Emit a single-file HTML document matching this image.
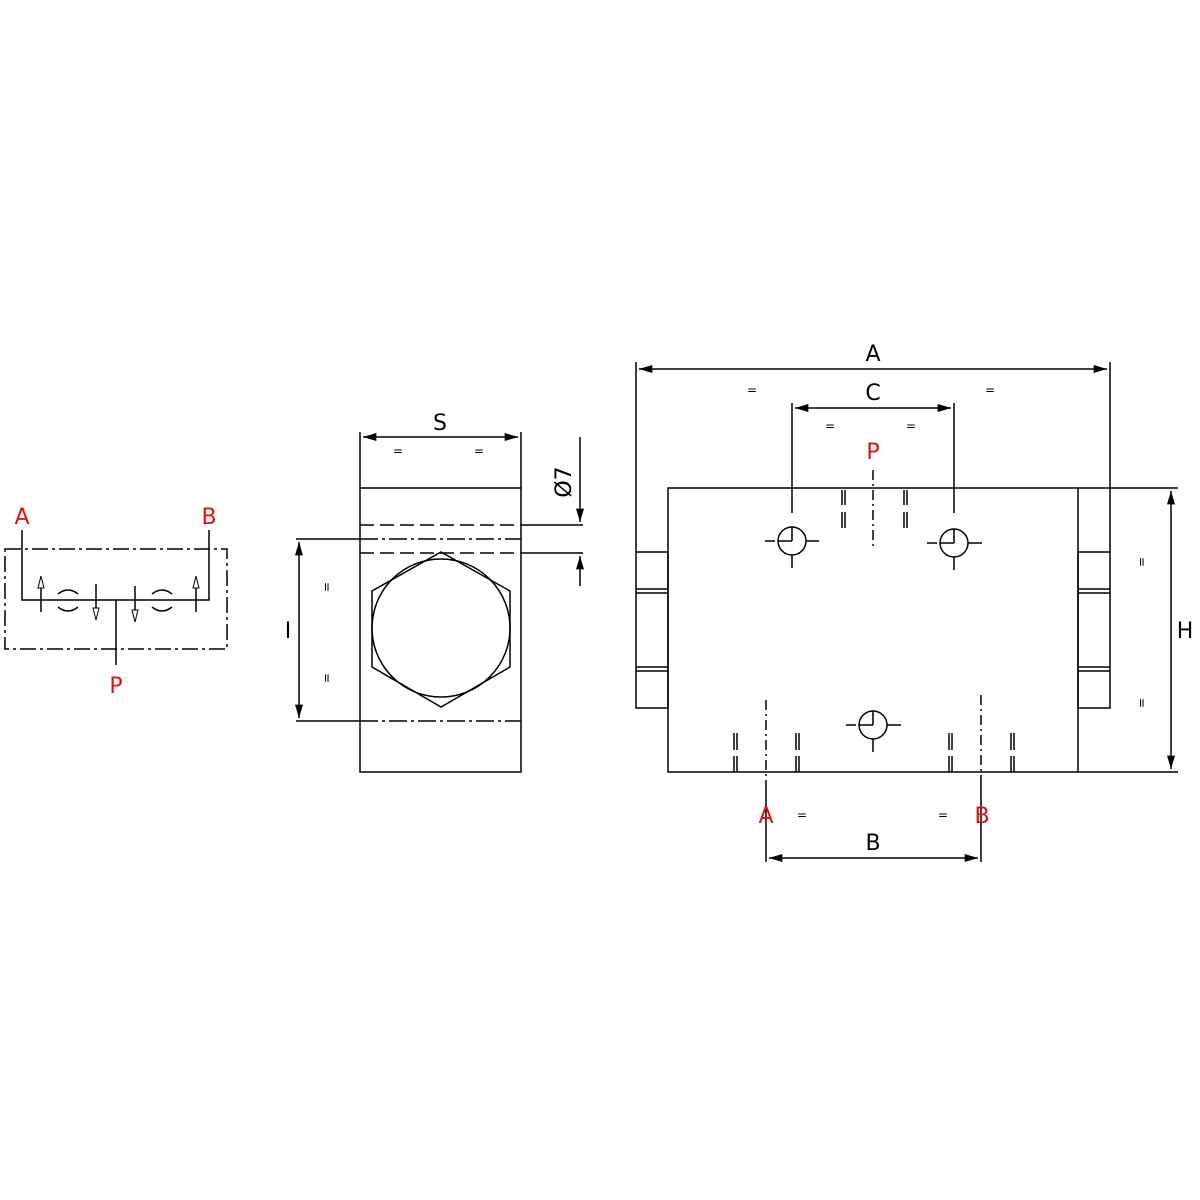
<!DOCTYPE html>
<html><head><meta charset="utf-8"><style>body{margin:0;background:#fff}svg{display:block}text{font-family:"DejaVu Sans","Liberation Sans",sans-serif}</style></head><body>
<svg width="1200" height="1200" viewBox="0 0 1200 1200" xmlns="http://www.w3.org/2000/svg">
<defs>
<marker id="ar" viewBox="0 0 10 6" refX="10" refY="3" markerWidth="16" markerHeight="8" markerUnits="userSpaceOnUse" orient="auto-start-reverse"><path d="M0,0L10,3L0,6z" fill="#000"/></marker>
</defs>
<g stroke="#000" stroke-width="1.5" fill="none">
<!-- left schematic -->
<rect x="5" y="549" width="222" height="100" stroke-dasharray="16,4,3,4"/>
<path d="M22,530V600H209V530M116,600V665"/>
<path d="M41,588V612M196,588V612M96,584V608M135,586V610"/>
<g stroke-width="1" fill="#fff">
<path d="M38,588L41,576L44,588z"/><path d="M193,588L196,576L199,588z"/>
<path d="M93,608L96,620L99,608z"/><path d="M132,610L135,622L138,610z"/>
</g>
<path d="M58,594Q68,586 78,594M58,607Q68,615 78,607M152,594Q162,586 172,594M152,607Q162,615 172,607"/>
<!-- middle view -->
<rect x="360" y="488" width="161" height="284"/>
<path d="M360,525H521M360,553H521" stroke-dasharray="14,6"/>
<path d="M521,525H583M521,553H583"/>
<path d="M360,539H521M360,721H521" stroke-dasharray="18,4,3,4"/>
<path d="M296,539H360M296,721H360"/>
<path d="M299,542V718" marker-start="url(#ar)" marker-end="url(#ar)"/>
<path d="M360,432V488M521,432V488"/>
<path d="M363,437H518" marker-start="url(#ar)" marker-end="url(#ar)"/>
<path d="M580,437V522" marker-end="url(#ar)"/>
<path d="M580,586V556" marker-end="url(#ar)"/>
<circle cx="441" cy="628" r="69"/>
<polygon points="441,552 510,591 510,667 441,707 372,667 372,591"/>
<!-- right view -->
<rect x="668" y="488" width="410" height="284"/>
<rect x="636" y="552" width="32" height="156"/>
<rect x="1078" y="552" width="32" height="156"/>
<path d="M636,589H668M636,593H668M636,667H668M636,671H668M1078,589H1110M1078,593H1110M1078,667H1110M1078,671H1110"/>
<path d="M636,362V552M1110,362V552"/>
<path d="M639,369H1107" marker-start="url(#ar)" marker-end="url(#ar)"/>
<path d="M792,403V513M954,403V513"/>
<path d="M795,408H951" marker-start="url(#ar)" marker-end="url(#ar)"/>
<path d="M873,470V550" stroke-dasharray="10,4,2,4"/>
<circle cx="792" cy="541" r="14"/><circle cx="954" cy="543" r="14"/><circle cx="873" cy="725" r="14"/>
<path d="M792,541V527M792,541H778M954,543V529M954,543H940M873,725V711M873,725H859"/>
<path d="M765,541H775M806,541H819M792,555V568M927,543H937M968,543H982M954,557V570M846,725H856M887,725H901M873,739V752"/>
<path d="M842,490V505M845,490V505M842,512V528M845,512V528M904,490V505M907,490V505M904,512V528M907,512V528"/>
<path d="M734,733V750M737,733V750M734,756V772M737,756V772M796,733V750M799,733V750M796,756V772M799,756V772M949,733V750M952,733V750M949,756V772M952,756V772M1011,733V750M1014,733V750M1011,756V772M1014,756V772"/>
<path d="M766,700V780M981,695V780" stroke-dasharray="10,4,2,4"/>
<path d="M766,780V862M981,780V862"/>
<path d="M769,858H978" marker-start="url(#ar)" marker-end="url(#ar)"/>
<path d="M1078,488H1178M1078,772H1178"/>
<path d="M1171,491V769" marker-start="url(#ar)" marker-end="url(#ar)"/>
</g>
<g font-size="22" text-anchor="middle">
<text x="22" y="524" fill="#e01010">A</text>
<text x="209" y="524" fill="#e01010">B</text>
<text x="116" y="693" fill="#e01010">P</text>
<text x="440" y="430">S</text>
<text x="288" y="638">I</text>
<text x="0" y="0" transform="translate(571,482) rotate(-90)">Ø7</text>
<text x="873" y="361">A</text>
<text x="873" y="400">C</text>
<text x="873" y="459" fill="#e01010">P</text>
<text x="766" y="823" fill="#e01010">A</text>
<text x="982" y="823" fill="#e01010">B</text>
<text x="873" y="850">B</text>
<text x="1185" y="638">H</text>
</g>
<g font-size="12" text-anchor="middle">
<text x="398" y="455">=</text><text x="479" y="455">=</text>
<text x="752" y="394">=</text><text x="990" y="394">=</text>
<text x="830" y="430">=</text><text x="911" y="430">=</text>
<text x="802" y="819">=</text><text x="943" y="819">=</text>
<text transform="translate(323,587) rotate(90)">=</text>
<text transform="translate(323,678) rotate(90)">=</text>
<text transform="translate(1138,562) rotate(90)">=</text>
<text transform="translate(1138,703) rotate(90)">=</text>
</g>
</svg>
</body></html>
